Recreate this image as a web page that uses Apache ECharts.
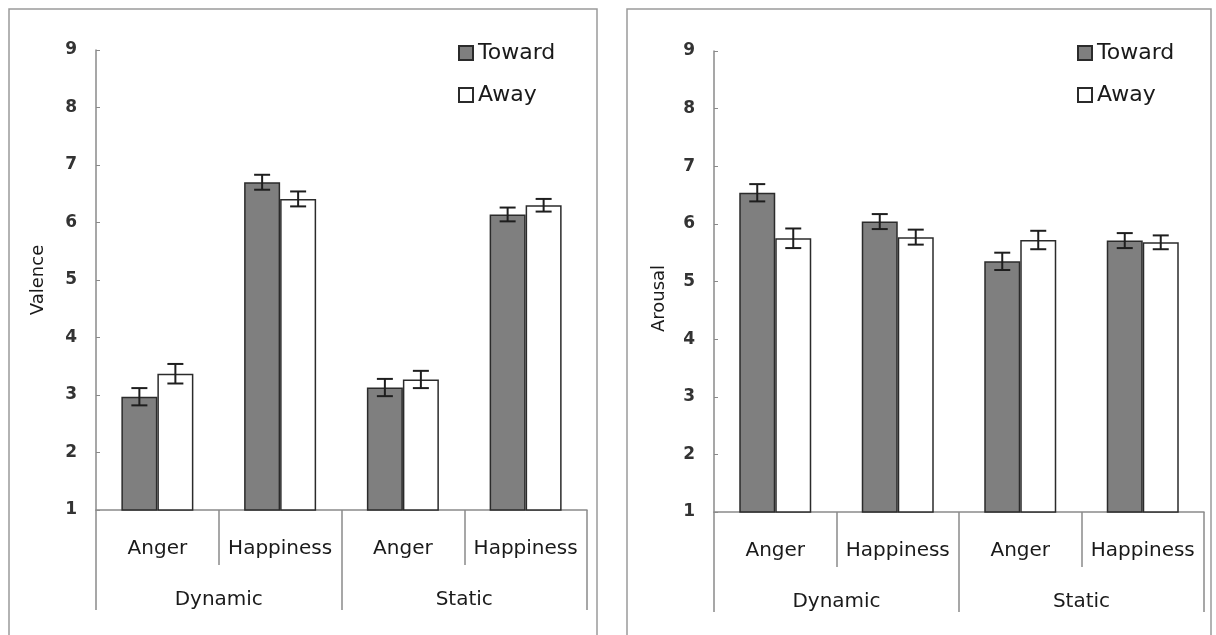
<!DOCTYPE html>
<html>
<head>
<meta charset="utf-8">
<script src="https://cdn.jsdelivr.net/npm/echarts@6/dist/echarts.min.js"></script>
<style>
  html, body { margin: 0; padding: 0; background: #fff; }
  #chart { width: 1216px; height: 635px; }
</style>
</head>
<body>
<div id="chart"></div>
<script>
// 数据
const subCategories = ['Anger', 'Happiness', 'Anger', 'Happiness'];
const groups = ['Dynamic', 'Static'];
const seriesNames = ['Toward', 'Away'];

const valenceToward = [2.97, 6.70, 3.13, 6.14];
const valenceTowardErr = [0.15, 0.13, 0.15, 0.12];
const valenceAway = [3.37, 6.41, 3.27, 6.30];
const valenceAwayErr = [0.17, 0.13, 0.15, 0.11];

const arousalToward = [6.54, 6.04, 5.35, 5.71];
const arousalTowardErr = [0.15, 0.13, 0.15, 0.13];
const arousalAway = [5.75, 5.77, 5.72, 5.68];
const arousalAwayErr = [0.17, 0.13, 0.16, 0.12];

const yMin = 1, yMax = 9, yStep = 1;

const FONT = 'DejaVu Sans';
const AXIS_GRAY = '#8a8a8a';
const TEXT = '#1a1a1a';
const BAR_W = 36;

const towardStyle = { color: '#7f7f7f', borderColor: '#2b2b2b', borderWidth: 1.5 };
const awayStyle = { color: '#ffffff', borderColor: '#2b2b2b', borderWidth: 1.5 };

// 误差线
function errRender(offset) {
  return function (params, api) {
    const cat = api.value(0);
    const lo = api.coord([cat, api.value(1)]);
    const hi = api.coord([cat, api.value(2)]);
    const x = lo[0] + offset;
    const w = 8;
    const st = { stroke: '#1e1e1e', lineWidth: 2 };
    return {
      type: 'group',
      children: [
        { type: 'line', shape: { x1: x, y1: hi[1], x2: x, y2: lo[1] }, style: st },
        { type: 'line', shape: { x1: x - w, y1: hi[1], x2: x + w, y2: hi[1] }, style: st },
        { type: 'line', shape: { x1: x - w, y1: lo[1], x2: x + w, y2: lo[1] }, style: st }
      ]
    };
  };
}

function errData(means, errs) {
  return means.map((m, i) => [i, m - errs[i], m + errs[i]]);
}

function xAxesFor(gi) {
  return [
    {
      type: 'category', gridIndex: gi, position: 'bottom', data: subCategories,
      axisLine: { show: true, lineStyle: { color: AXIS_GRAY, width: 1.5 } },
      axisTick: { show: true, interval: 0, length: 55, lineStyle: { color: AXIS_GRAY, width: 1.5 } },
      axisLabel: { interval: 0, margin: 29, fontSize: 20, fontFamily: FONT, color: TEXT }
    },
    {
      type: 'category', gridIndex: gi, position: 'bottom', data: groups,
      axisLine: { show: false },
      axisTick: { show: true, interval: 0, length: 100, lineStyle: { color: AXIS_GRAY, width: 1.5 } },
      axisLabel: { interval: 0, margin: 80, fontSize: 20, fontFamily: FONT, color: TEXT }
    }
  ];
}

function yAxisFor(gi, name, gap, pad) {
  return {
    type: 'value', gridIndex: gi, min: yMin, max: yMax, interval: yStep,
    name: name, nameLocation: 'middle', nameGap: gap,
    nameTextStyle: { fontSize: 18, fontFamily: FONT, color: TEXT, padding: pad },
    axisLine: { show: true, lineStyle: { color: AXIS_GRAY, width: 1.5 } },
    axisTick: { show: true, inside: true, length: 4, lineStyle: { color: AXIS_GRAY } },
    axisLabel: { margin: 19, fontSize: 17, fontWeight: 'bold', fontFamily: FONT, color: '#333' },
    splitLine: { show: false }
  };
}

function legendAt(left) {
  return {
    left: left, top: 37, orient: 'vertical', icon: 'rect',
    itemWidth: 14, itemHeight: 14, itemGap: 20,
    data: seriesNames,
    textStyle: { fontSize: 22, fontFamily: FONT, color: TEXT },
    selectedMode: false
  };
}

function barSeries(name, values, style, xi, yi) {
  return {
    name: name, type: 'bar', data: values,
    xAxisIndex: xi, yAxisIndex: yi,
    barWidth: BAR_W, barGap: '0%',
    itemStyle: style, animation: false, z: 2
  };
}

function errSeries(means, errs, offset, xi, yi) {
  return {
    type: 'custom', renderItem: errRender(offset),
    data: errData(means, errs), encode: { x: 0, y: [1, 2] },
    xAxisIndex: xi, yAxisIndex: yi, z: 5, animation: false, silent: true
  };
}

const myChart = echarts.init(document.getElementById('chart'), null, { renderer: 'canvas' });

const option = {
  backgroundColor: '#fff',
  animation: false,
  graphic: [
    { type: 'rect', shape: { x: 9, y: 9, width: 588, height: 640 }, style: { fill: 'none', stroke: '#9a9a9a', lineWidth: 1.5 }, z: -1 },
    { type: 'rect', shape: { x: 627, y: 9, width: 584, height: 640 }, style: { fill: 'none', stroke: '#9a9a9a', lineWidth: 1.5 }, z: -1 }
  ],
  legend: [legendAt(453), legendAt(1072)],
  grid: [
    { left: 96, top: 50, width: 491, height: 460 },
    { left: 714, top: 51, width: 490, height: 461 }
  ],
  xAxis: xAxesFor(0).concat(xAxesFor(1)),
  yAxis: [
    yAxisFor(0, 'Valence', 49, [0, 0, 0, 0]),
    yAxisFor(1, 'Arousal', 46, [0, 34, 0, 0])
  ],
  series: [
    barSeries('Toward', valenceToward, towardStyle, 0, 0),
    barSeries('Away', valenceAway, awayStyle, 0, 0),
    errSeries(valenceToward, valenceTowardErr, -BAR_W / 2, 0, 0),
    errSeries(valenceAway, valenceAwayErr, BAR_W / 2, 0, 0),
    barSeries('Toward', arousalToward, towardStyle, 2, 1),
    barSeries('Away', arousalAway, awayStyle, 2, 1),
    errSeries(arousalToward, arousalTowardErr, -BAR_W / 2, 2, 1),
    errSeries(arousalAway, arousalAwayErr, BAR_W / 2, 2, 1)
  ]
};

myChart.setOption(option);
</script>
</body>
</html>
